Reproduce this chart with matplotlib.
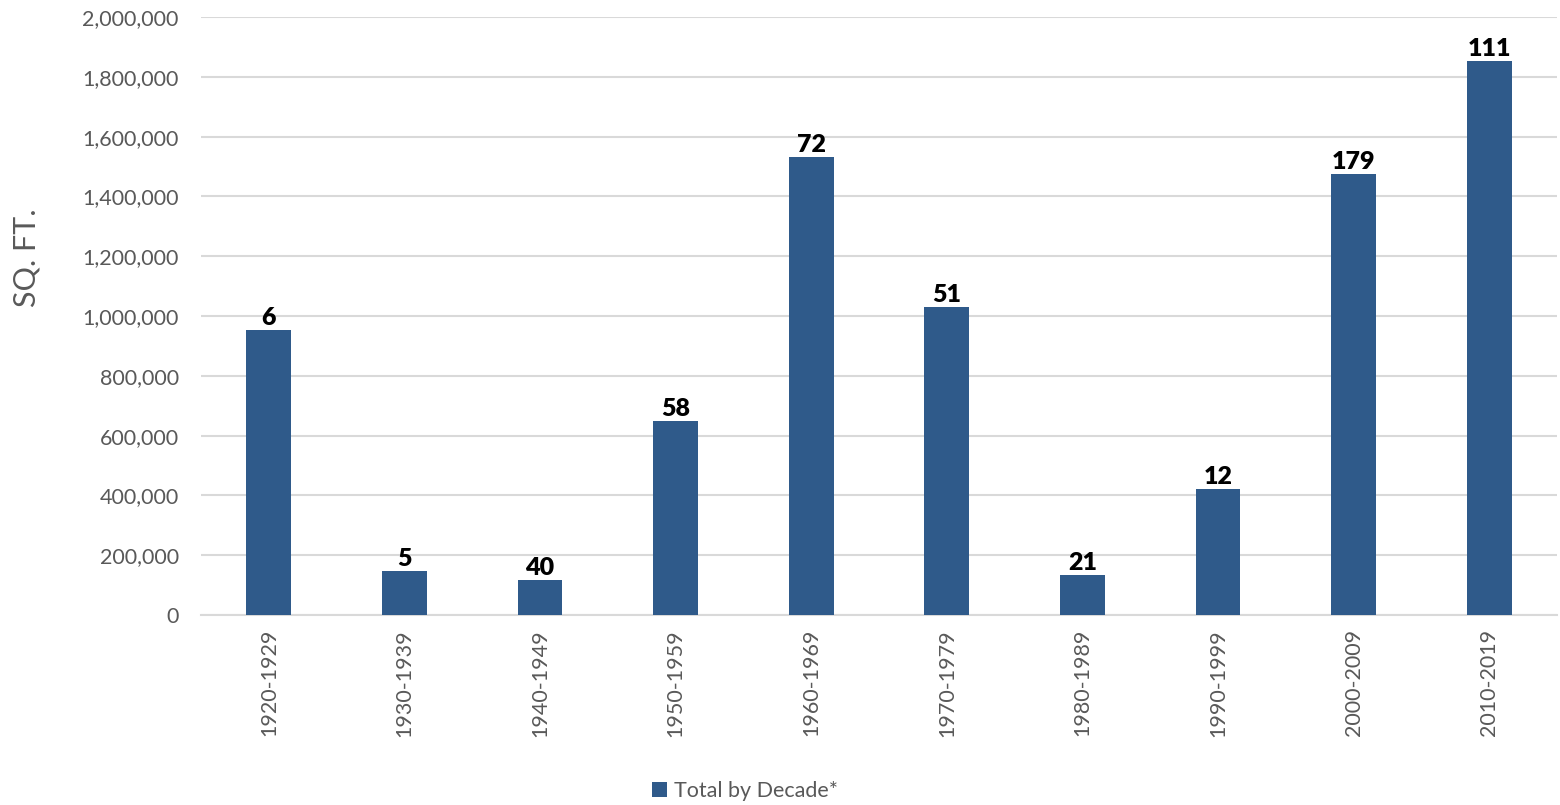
import matplotlib.pyplot as plt
from matplotlib.ticker import FuncFormatter
import numpy as np

plt.rcParams['font.family'] = ['Lato', 'DejaVu Sans']

decades = ['1920-1929', '1930-1939', '1940-1949', '1950-1959', '1960-1969',
           '1970-1979', '1980-1989', '1990-1999', '2000-2009', '2010-2019']
sq_ft = [953000, 147000, 117000, 649000, 1532000,
         1030000, 134000, 421000, 1475000, 1853000]
counts = [6, 5, 40, 58, 72, 51, 21, 12, 179, 111]

bar_color = '#2F5A8A'
grey = '#595959'

fig = plt.figure(figsize=(15.6, 8.05), dpi=100)
ax = fig.add_axes([201 / 1560, 1 - 615 / 805, 1356 / 1560, 598 / 805])

x = np.arange(len(decades))
bars = ax.bar(x, sq_ft, width=0.33, color=bar_color, label='Total by Decade*', zorder=3)

for b, n in zip(bars, counts):
    ax.annotate(str(n), (b.get_x() + b.get_width() / 2, b.get_height()),
                xytext=(0, 1), textcoords='offset points', ha='center', va='bottom',
                fontsize=18, fontweight='heavy', color='black')

ax.set_xlim(-0.5, len(decades) - 0.5)
ax.set_ylim(0, 2000000)
ax.set_yticks(np.arange(0, 2000001, 200000))
ax.yaxis.set_major_formatter(FuncFormatter(lambda v, p: f'{int(v):,}'))
ax.set_xticks(x)
ax.set_xticklabels(decades, rotation=90)

ax.grid(axis='y', color='#D9D9D9', linewidth=1.5, zorder=0)
for s in ['top', 'right', 'left']:
    ax.spines[s].set_visible(False)
ax.spines['bottom'].set_color('#D9D9D9')
ax.spines['bottom'].set_linewidth(1.5)
ax.tick_params(axis='both', length=0, labelsize=15.5, labelcolor=grey)
ax.tick_params(axis='y', pad=16)
ax.tick_params(axis='x', pad=10)

fig.text(27 / 1560, 1 - 258 / 805, 'SQ. FT.', rotation=90, ha='center', va='center',
         fontsize=22, color=grey)

fig.legend(handles=[bars], labels=['Total by Decade*'], loc='center',
           bbox_to_anchor=(745 / 1560, 1 - 791 / 805), frameon=False,
           fontsize=15.5, labelcolor=grey, handlelength=0.7, handleheight=0.7,
           handletextpad=0.3)

fig.savefig('out.png', dpi=100)
